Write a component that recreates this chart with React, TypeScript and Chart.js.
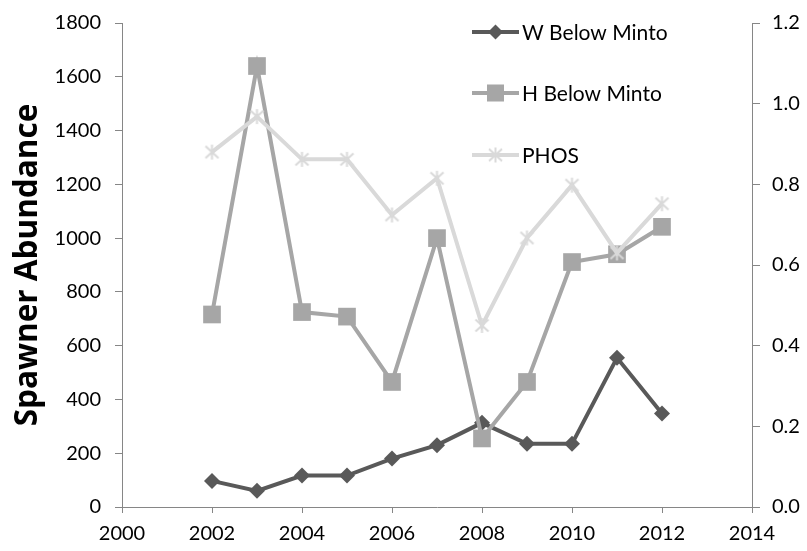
import React, { useEffect, useRef } from "react";
import { Chart, registerables } from "chart.js";

Chart.register(...registerables);

const years = [2002, 2003, 2004, 2005, 2006, 2007, 2008, 2009, 2010, 2011, 2012];
const wBelowMinto = [97, 60, 117, 117, 180, 230, 313, 235, 235, 555, 348];
const hBelowMinto = [716, 1640, 725, 708, 465, 1000, 255, 465, 911, 940, 1042];
const phos = [0.88, 0.968, 0.862, 0.862, 0.724, 0.815, 0.45, 0.667, 0.798, 0.63, 0.752];
const seriesNames = ["W Below Minto", "H Below Minto", "PHOS"];
const axisTitle = "Spawner Abundance";

const DARK = "#595959";
const MID = "#a6a6a6";
const LIGHT = "#d9d9d9";
const AXIS = "#868686";
const FONT = "Lato";

function makeStar(color: string) {
  const c = document.createElement("canvas");
  c.width = 17;
  c.height = 17;
  const ctx = c.getContext("2d")!;
  ctx.strokeStyle = color;
  ctx.lineWidth = 2;
  ctx.beginPath();
  ctx.moveTo(2, 2.5);
  ctx.lineTo(15, 14.5);
  ctx.moveTo(15, 2.5);
  ctx.lineTo(2, 14.5);
  ctx.moveTo(8.5, 1);
  ctx.lineTo(8.5, 16);
  ctx.stroke();
  return c;
}

export default function App() {
  const ref = useRef<HTMLCanvasElement | null>(null);
  useEffect(() => {
    document.body.style.margin = "0";
    const star = makeStar(LIGHT);
    const toXY = (arr: number[]) => years.map((x, i) => ({ x, y: arr[i] }));

    const legendPlugin = {
      id: "customLegend",
      afterDraw(chart: any) {
        const ctx = chart.ctx;
        const items = [
          { y: 32, color: DARK, style: "rectRot" },
          { y: 93, color: MID, style: "rect" },
          { y: 155, color: LIGHT, style: "star" },
        ];
        ctx.save();
        items.forEach((it, i) => {
          ctx.strokeStyle = it.color;
          ctx.lineWidth = 4;
          ctx.beginPath();
          ctx.moveTo(472, it.y);
          ctx.lineTo(519, it.y);
          ctx.stroke();
          if (it.style === "star") {
            ctx.drawImage(star, 495.5 - 8.5, it.y - 8.5);
          } else if (it.style === "rect") {
            ctx.fillStyle = it.color;
            ctx.fillRect(495.5 - 8.5, it.y - 8.5, 17, 17);
          } else {
            ctx.fillStyle = it.color;
            ctx.beginPath();
            ctx.moveTo(495.5, it.y - 7.5);
            ctx.lineTo(503, it.y);
            ctx.lineTo(495.5, it.y + 7.5);
            ctx.lineTo(488, it.y);
            ctx.closePath();
            ctx.fill();
          }
          ctx.fillStyle = "#000";
          ctx.font = `21px ${FONT}`;
          ctx.textBaseline = "middle";
          ctx.textAlign = "left";
          ctx.fillText(seriesNames[i], 522, it.y + 1);
        });
        ctx.restore();
      },
    };

    const fitY = (w: number) => (s: any) => {
      s.width = w;
      s.paddingTop = 0;
      s.paddingBottom = 0;
    };

    const chart = new Chart(ref.current!, {
      type: "line",
      data: {
        datasets: [
          {
            label: seriesNames[0],
            data: toXY(wBelowMinto),
            yAxisID: "y",
            borderColor: DARK,
            backgroundColor: DARK,
            borderWidth: 4,
            pointStyle: "rectRot",
            pointRadius: 8,
            pointBorderWidth: 0,
            order: 3,
          },
          {
            label: seriesNames[1],
            data: toXY(hBelowMinto),
            yAxisID: "y",
            borderColor: MID,
            backgroundColor: MID,
            borderWidth: 4,
            pointStyle: "rect",
            pointRadius: 12.5,
            pointBorderWidth: 0,
            order: 2,
          },
          {
            label: seriesNames[2],
            data: toXY(phos),
            yAxisID: "y1",
            borderColor: LIGHT,
            backgroundColor: LIGHT,
            borderWidth: 4,
            pointStyle: star as any,
            pointRadius: 8,
            order: 1,
          },
        ],
      },
      options: {
        responsive: false,
        animation: false,
        layout: { padding: { top: 23, left: 0, right: 0, bottom: 0 } },
        plugins: { legend: { display: false }, tooltip: { enabled: false } },
        scales: {
          x: {
            type: "linear",
            min: 2000,
            max: 2014,
            afterFit: (s: any) => {
              s.height = 44;
            },
            ticks: {
              stepSize: 2,
              color: "#000",
              padding: 9,
              font: { family: FONT, size: 20 },
              callback: (v: any) => String(v),
            },
            grid: { drawOnChartArea: false, drawTicks: true, tickLength: 6, color: AXIS },
            border: { color: AXIS, width: 1 },
          },
          y: {
            position: "left",
            min: 0,
            max: 1800,
            afterFit: fitY(122),
            ticks: {
              stepSize: 200,
              color: "#000",
              padding: 14,
              font: { family: FONT, size: 20 },
              callback: (v: any) => String(v),
            },
            grid: { drawOnChartArea: false, drawTicks: true, tickLength: 7, color: AXIS },
            border: { color: AXIS, width: 1 },
            title: {
              display: true,
              text: axisTitle,
              color: "#000",
              font: { family: "Open Sans", size: 31.5, weight: "bold" },
              padding: { top: 9, bottom: 0 },
            },
          },
          y1: {
            position: "right",
            min: 0,
            max: 1.2,
            afterFit: fitY(55),
            ticks: {
              stepSize: 0.2,
              color: "#000",
              padding: 12,
              font: { family: FONT, size: 20 },
              callback: (v: any) => Number(v).toFixed(1),
            },
            grid: { drawOnChartArea: false, drawTicks: true, tickLength: 8, color: AXIS },
            border: { color: AXIS, width: 1 },
          },
        },
      },
      plugins: [legendPlugin],
    });
    return () => chart.destroy();
  }, []);

  return (
    <div style={{ position: "absolute", left: 0, top: 0, width: 807, height: 551, background: "#fff" }}>
      <canvas ref={ref} width={807} height={551} style={{ display: "block" }} />
    </div>
  );
}
